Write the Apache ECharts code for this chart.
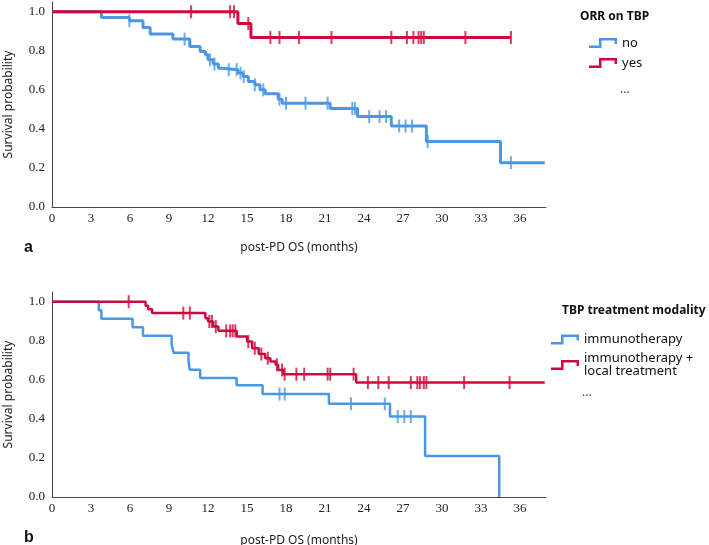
<!DOCTYPE html>
<html>
<head>
<meta charset="utf-8">
<script src="https://cdn.jsdelivr.net/npm/echarts@6/dist/echarts.min.js"></script>
<style>html,body{margin:0;padding:0;background:#fff;}#c{width:709px;height:545px;}</style>
</head>
<body>
<div id="c"></div>
<script>
// ---- Data ----
// Panel a: ORR on TBP
const aNoSteps = [[0,1],[3.8,0.97],[5.95,0.954],[7.0,0.92],[7.55,0.886],[9.3,0.86],[10.6,0.822],[11.4,0.796],[11.8,0.78],[12.0,0.754],[12.4,0.732],[12.8,0.711],[13.1,0.703],[14.3,0.686],[14.7,0.668],[15.1,0.643],[15.6,0.626],[16.0,0.60],[16.4,0.58],[17.4,0.552],[17.7,0.532],[21.4,0.505],[23.5,0.463],[26.1,0.415],[28.8,0.335],[34.5,0.227],[37.9,0.227]];
const aNoCensor = [5.95,10.2,12.15,12.5,13.6,14.2,14.5,14.75,15.6,16.25,17.5,18.0,19.5,21.2,23.1,23.3,24.4,25.2,25.7,26.7,27.2,27.7,28.9,35.3];
const aYesSteps = [[0,1],[14.3,0.94],[15.3,0.868],[35.3,0.868]];
const aYesCensor = [10.7,13.7,14.0,15.1,16.8,17.5,19.0,21.5,26.1,27.3,27.8,28.2,28.4,28.6,31.8,35.3];
// Panel b: TBP treatment modality
const bImmSteps = [[0,1],[3.6,0.957],[3.8,0.913],[6.2,0.870],[7.0,0.826],[9.2,0.783],[9.35,0.739],[10.5,0.696],[10.6,0.652],[11.4,0.609],[14.2,0.572],[16.2,0.527],[21.3,0.477],[26.0,0.412],[28.7,0.21],[34.4,0]];
const bImmCensor = [17.5,17.9,23.0,25.6,26.6,27.1,27.6];
const bLocSteps = [[0,1],[7.2,0.98],[7.4,0.962],[7.7,0.942],[11.8,0.916],[12.0,0.899],[12.4,0.873],[12.8,0.851],[14.2,0.822],[15.0,0.796],[15.4,0.762],[15.9,0.732],[16.4,0.711],[16.8,0.694],[17.2,0.677],[17.4,0.651],[17.8,0.629],[23.4,0.586],[37.9,0.586]];
const bLocCensor = [5.9,10.1,10.6,12.1,12.3,12.6,13.4,13.7,13.9,14.1,15.1,15.6,16.1,16.6,17.3,17.7,17.9,18.8,19.4,21.2,21.4,23.2,24.3,25.1,25.9,27.6,28.1,28.3,28.6,28.8,31.7,35.2];

const xTicks = [0,3,6,9,12,15,18,21,24,27,30,33,36];
const yTicks = [0,0.2,0.4,0.6,0.8,1.0];
const legendA = {title:'ORR on TBP', names:['no','yes']};
const legendB = {title:'TBP treatment modality', names:['immunotherapy','immunotherapy +\nlocal treatment']};

// ---- helpers ----
function survAt(steps, t){ let v = steps[0][1]; for (const p of steps){ if (p[0] <= t + 1e-9) v = p[1]; } return v; }
function censorPts(steps, times){ return times.map(t => [t, survAt(steps, t)]); }

const BLUE = '#4A98E3', RED = '#CE0A3C';
const SANS = 'Noto Sans', SERIF = 'Liberation Serif';
const stepIcon = 'path://M0,7.5 L10,7.5 L10,0 L28,0 L28,6 L25.5,6 L25.5,2.5 L12.5,2.5 L12.5,10 L0,10 Z';

function xAxisCfg(gi, gap){
  return {gridIndex:gi, type:'value', min:0, max:38, interval:3,
    name:'post-PD OS (months)', nameLocation:'middle', nameGap:gap,
    nameTextStyle:{fontFamily:SANS, fontSize:12, color:'#222'},
    axisLine:{lineStyle:{color:'#444', width:1}}, axisTick:{show:false}, splitLine:{show:false},
    axisLabel:{fontFamily:SERIF, fontSize:13, color:'#222', margin:5,
      formatter: v => xTicks.indexOf(v) >= 0 ? String(v) : ''}};
}
function yAxisCfg(gi){
  return {gridIndex:gi, type:'value', min:0, max:1.05, interval:0.2,
    name:'Survival probability', nameLocation:'middle', nameGap:37,
    nameTextStyle:{fontFamily:SANS, fontSize:12, color:'#222'},
    axisLine:{show:true, lineStyle:{color:'#444', width:1}}, axisTick:{show:false}, splitLine:{show:false},
    axisLabel:{fontFamily:SERIF, fontSize:13, color:'#222', margin:7,
      formatter: v => yTicks.some(t => Math.abs(t - v) < 1e-6) ? v.toFixed(1) : ''}};
}
function lineS(name, gi, steps, color, w){
  return {name, type:'line', step:'end', xAxisIndex:gi, yAxisIndex:gi, data:steps, symbol:'none',
    lineStyle:{color, width:w}, itemStyle:{color}, animation:false, z:2};
}
function censS(name, gi, steps, times, color, h){
  return {name, type:'scatter', xAxisIndex:gi, yAxisIndex:gi, data:censorPts(steps, times),
    symbol:'rect', symbolSize:[2, h], itemStyle:{color}, animation:false, z:3};
}

const chart = echarts.init(document.getElementById('c'), null, {renderer:'canvas'});
chart.setOption({
  backgroundColor:'#fff',
  animation:false,
  grid:[{left:52, top:2, width:494, height:205, outerBoundsMode:'none', containLabel:false},
        {left:52, top:292, width:494, height:205, outerBoundsMode:'none', containLabel:false}],
  xAxis:[xAxisCfg(0, 35), xAxisCfg(1, 38)],
  yAxis:[yAxisCfg(0), yAxisCfg(1)],
  legend:[
    {data:legendA.names.map(n=>({name:n})), orient:'vertical', left:589, top:35, padding:0, itemWidth:28, itemHeight:10, itemGap:4,
     icon:stepIcon, selectedMode:false, textStyle:{fontFamily:SANS, fontSize:13, color:'#111', lineHeight:16}},
    {data:legendB.names.map(n=>({name:n})), orient:'vertical', left:551, top:333, padding:0, itemWidth:28, itemHeight:10, itemGap:6,
     icon:stepIcon, selectedMode:false, textStyle:{fontFamily:SANS, fontSize:13, color:'#111', lineHeight:13}}
  ],
  graphic:[
    {type:'text', left:580, top:11, style:{text:legendA.title, font:'bold 12px "Noto Sans"', fill:'#111'}},
    {type:'text', left:620, top:84, style:{text:'...', font:'12px "Noto Sans"', fill:'#444'}},
    {type:'text', left:562, top:305, style:{text:legendB.title, font:'bold 12px "Noto Sans"', fill:'#111'}},
    {type:'text', left:582, top:387, style:{text:'...', font:'12px "Noto Sans"', fill:'#444'}},
    {type:'text', left:24, top:240, style:{text:'a', font:'bold 16px "Liberation Sans"', fill:'#111'}},
    {type:'text', left:24, top:530, style:{text:'b', font:'bold 16px "Liberation Sans"', fill:'#111'}}
  ],
  series:[
    lineS('no', 0, aNoSteps, BLUE, 3), censS('no', 0, aNoSteps, aNoCensor, BLUE, 13),
    lineS('yes', 0, aYesSteps, RED, 3), censS('yes', 0, aYesSteps, aYesCensor, RED, 13),
    lineS(legendB.names[0], 1, bImmSteps, BLUE, 2.5), censS(legendB.names[0], 1, bImmSteps, bImmCensor, BLUE, 13),
    lineS(legendB.names[1], 1, bLocSteps, RED, 2.5), censS(legendB.names[1], 1, bLocSteps, bLocCensor, RED, 13)
  ]
});
</script>
</body>
</html>
